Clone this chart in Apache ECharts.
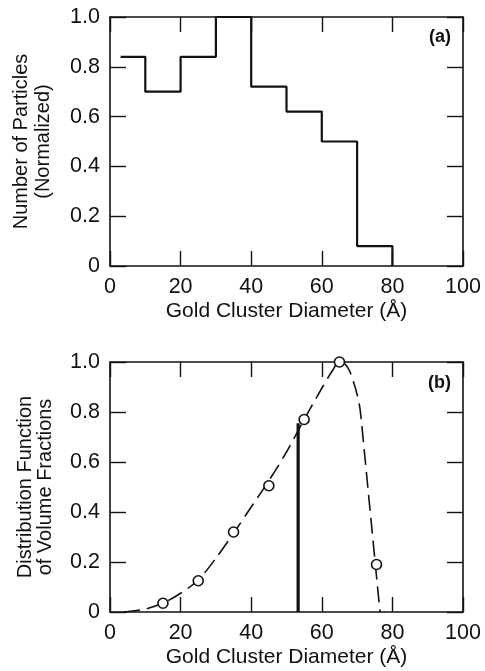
<!DOCTYPE html>
<html>
<head>
<meta charset="utf-8">
<script src="https://cdn.jsdelivr.net/npm/echarts@6/dist/echarts.min.js"></script>
<style>
  html, body { margin: 0; padding: 0; background: #fff; }
  #chart { width: 485px; height: 671px; }
</style>
</head>
<body>
<div id="chart"></div>
<script>
// (a) size histogram: bin edges and normalized particle counts
const diameterEdges = [3, 10, 20, 30, 40, 50, 60, 70, 80];
const particleCounts = [0.84, 0.70, 0.84, 1.0, 0.72, 0.62, 0.50, 0.08];

// (b) measured volume fractions (open circles)
const sampleDiameters = [15, 25, 35, 45, 55, 65, 75.5];
const volumeFractions = [0.035, 0.125, 0.32, 0.505, 0.77, 1.0, 0.19];

// (b) dashed distribution curve
const fitDiameters = [4, 10, 15, 20, 25, 30, 35, 40, 45, 50, 55, 60, 63, 65, 66, 67, 68, 69, 70, 70.8, 72, 73, 74, 75, 76, 76.5];
const fitValues = [0, 0.012, 0.035, 0.075, 0.128, 0.215, 0.315, 0.42, 0.525, 0.64, 0.77, 0.895, 0.965, 1.0, 0.998, 0.985, 0.96, 0.92, 0.87, 0.815, 0.65, 0.505, 0.36, 0.215, 0.07, 0.0];

// (b) mean diameter marker
const meanDiameter = 53.3;
const meanHeight = 0.755;

const FONT = 'Liberation Sans';
const INK = '#111';

// histogram outline as step points
const lastEdge = diameterEdges[diameterEdges.length - 1];
const histPoints = particleCounts.map((v, i) => [diameterEdges[i], v]);
histPoints.push([lastEdge, particleCounts[particleCounts.length - 1]]);
histPoints.push([lastEdge, 0]);

const fitPoints = fitDiameters.map((x, i) => [x, fitValues[i]]);
const samplePoints = sampleDiameters.map((x, i) => [x, volumeFractions[i]]);

function xAxisPair(gridIndex, title) {
  const base = {
    gridIndex, type: 'value', min: 0, max: 100, interval: 20,
    splitLine: { show: false },
    axisLine: { show: true, onZero: false, lineStyle: { color: INK, width: 1.6 } },
    axisTick: { show: true, inside: true, length: 15, lineStyle: { color: INK, width: 1.4 } }
  };
  return [
    Object.assign({}, base, {
      position: 'bottom',
      axisLabel: { color: INK, fontFamily: FONT, fontSize: 21.5, margin: 10 },
      name: title, nameLocation: 'middle', nameGap: 35,
      nameTextStyle: { color: INK, fontFamily: FONT, fontSize: 21 }
    }),
    Object.assign({}, base, { position: 'top', axisLabel: { show: false } })
  ];
}

function yAxisPair(gridIndex, title, gap, lineHeight) {
  const base = {
    gridIndex, type: 'value', min: 0, max: 1, interval: 0.2,
    splitLine: { show: false },
    axisLine: { show: true, onZero: false, lineStyle: { color: INK, width: 1.6 } },
    axisTick: { show: true, inside: true, length: 16, lineStyle: { color: INK, width: 1.4 } }
  };
  return [
    Object.assign({}, base, {
      position: 'left',
      axisLabel: {
        color: INK, fontFamily: FONT, fontSize: 21.5, margin: 10,
        formatter: v => (v === 0 ? '0' : v.toFixed(1))
      },
      name: title, nameLocation: 'middle', nameRotate: 90, nameGap: gap,
      nameTextStyle: { color: INK, fontFamily: FONT, fontSize: 20, lineHeight }
    }),
    Object.assign({}, base, { position: 'right', axisLabel: { show: false } })
  ];
}

const xTitle = 'Gold Cluster Diameter (Å)';

const option = {
  backgroundColor: '#fff',
  animation: false,
  grid: [
    { left: 110, top: 17, width: 353, height: 249, containLabel: false, outerBoundsMode: 'none' },
    { left: 110, top: 362, width: 353, height: 250, containLabel: false, outerBoundsMode: 'none' }
  ],
  xAxis: [].concat(xAxisPair(0, xTitle), xAxisPair(1, xTitle)),
  yAxis: [].concat(
    yAxisPair(0, 'Number of Particles\n(Normalized)', 56, 22),
    yAxisPair(1, 'Distribution Function\nof Volume Fractions', 55, 20)
  ),
  graphic: [
    { type: 'text', left: 429, top: 28, style: { text: '(a)', font: 'bold 18px ' + FONT, fill: INK } },
    { type: 'text', left: 428, top: 374, style: { text: '(b)', font: 'bold 18px ' + FONT, fill: INK } }
  ],
  series: [
    {
      type: 'line', xAxisIndex: 0, yAxisIndex: 0,
      data: histPoints, step: 'end', symbol: 'none',
      lineStyle: { color: INK, width: 2.2 }, clip: false
    },
    {
      type: 'line', xAxisIndex: 2, yAxisIndex: 2,
      data: fitPoints, smooth: 0.3, symbol: 'none',
      lineStyle: { color: INK, width: 1.6, type: [16, 7] }, clip: false
    },
    {
      type: 'line', xAxisIndex: 2, yAxisIndex: 2,
      data: [[meanDiameter, 0], [meanDiameter, meanHeight]], symbol: 'none',
      lineStyle: { color: INK, width: 3.2 }
    },
    {
      type: 'scatter', xAxisIndex: 2, yAxisIndex: 2,
      data: samplePoints, symbol: 'circle', symbolSize: 10, z: 5,
      itemStyle: { color: '#fff', borderColor: INK, borderWidth: 1.6, opacity: 1 },
      clip: false
    }
  ]
};

const chart = echarts.init(document.getElementById('chart'), null, { renderer: 'canvas' });
chart.setOption(option);
</script>
</body>
</html>
